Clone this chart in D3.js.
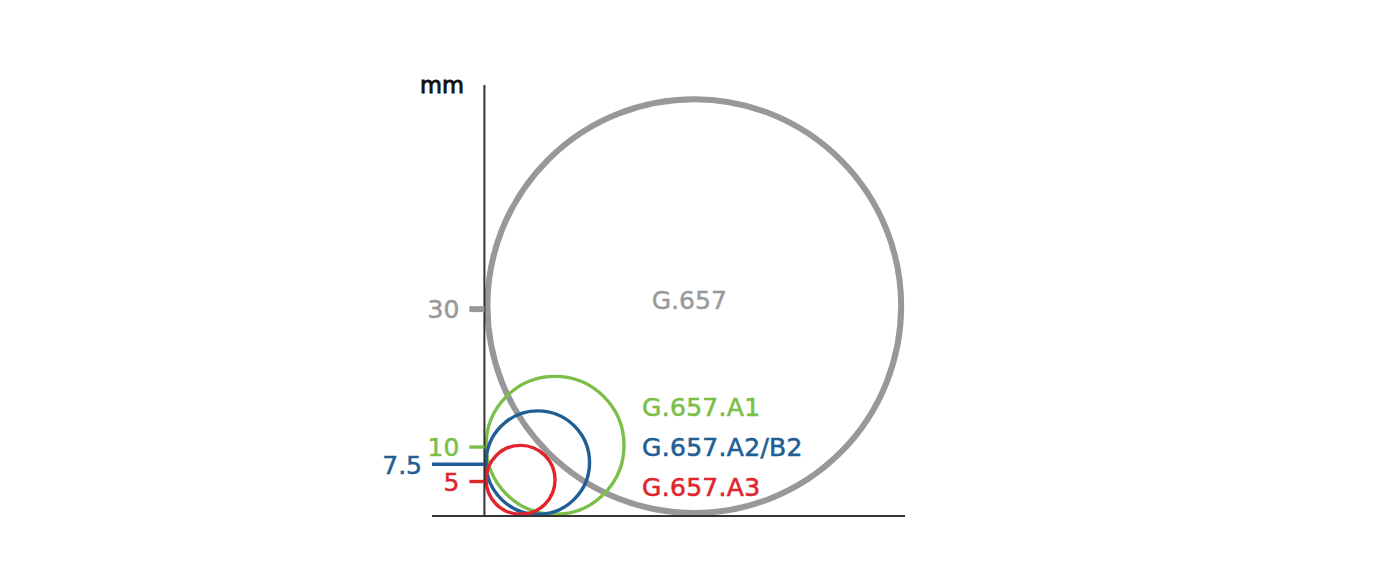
<!DOCTYPE html>
<html>
<head>
<meta charset="utf-8">
<script src="https://cdn.jsdelivr.net/npm/d3@7"></script>
<style>
  html, body { margin: 0; padding: 0; background: #fff; }
  svg { display: block; }
  text { font-family: "DejaVu Sans", sans-serif; paint-order: stroke; }
</style>
</head>
<body>
<svg id="chart" width="1379" height="579"></svg>
<script>
// ---- data ----
const categories = ["G.657", "G.657.A1", "G.657.A2/B2", "G.657.A3"];
const radii = [30, 10, 7.5, 5];          // minimum bend radius, mm
const tickLabels = ["30", "10", "7.5", "5"];
const legendLabels = ["G.657.A1", "G.657.A2/B2", "G.657.A3"];
const unitLabel = "mm";

// ---- styles ----
const colors = ["#98989b", "#7abf48", "#1f5f95", "#e0252e"];
const strokeW = [6, 3.4, 3.4, 3.4];

const svg = d3.select("#chart");

const x = d3.scaleLinear().domain([-7.6, 61]).range([432, 905]);
const y = d3.scaleLinear().domain([0, 62.5]).range([516, 85]);
const k = y(0) - y(1); // px per mm

const data = categories.map((c, i) => ({
  name: c, r: radii[i], color: colors[i], sw: strokeW[i], tick: tickLabels[i]
}));

// circles (tangent to both axes)
svg.append("g").selectAll("circle")
  .data(data)
  .join("circle")
  .attr("cx", d => x(0) + d.r * k + d.sw / 2)
  .attr("cy", d => y(0) - d.r * k - d.sw / 2)
  .attr("r", d => d.r * k)
  .attr("fill", "none")
  .attr("stroke", d => d.color)
  .attr("stroke-width", d => d.sw);

// axes
const axisColor = "#333";
svg.append("line")
  .attr("x1", x.range()[0]).attr("x2", x.range()[1])
  .attr("y1", y(0)).attr("y2", y(0))
  .attr("stroke", axisColor).attr("stroke-width", 2);
svg.append("line")
  .attr("x1", x(0)).attr("x2", x(0))
  .attr("y1", y.range()[1]).attr("y2", y(0))
  .attr("stroke", axisColor).attr("stroke-width", 2);

// ticks
const ticks = svg.append("g");
data.forEach((d, i) => {
  const long = d.name === "G.657.A2/B2";
  const x1 = long ? x.range()[0] : x(0) - 15;
  ticks.append("line")
    .attr("x1", x1).attr("x2", x(0))
    .attr("y1", y(d.r)).attr("y2", y(d.r))
    .attr("stroke", d.color)
    .attr("stroke-width", d.sw);
  ticks.append("text")
    .attr("x", x1 - 10)
    .attr("y", y(d.r))
    .attr("dy", "0.37em")
    .attr("text-anchor", "end")
    .attr("font-size", 25)
    .attr("fill", d.color)
    .attr("stroke", d.color)
    .attr("stroke-width", 0.5)
    .text(d.tick);
});

// unit label
svg.append("text")
  .attr("x", 442).attr("y", 93)
  .attr("text-anchor", "middle")
  .attr("font-size", 22.5)
  .attr("fill", "#111")
  .attr("stroke", "#111")
  .attr("stroke-width", 0.9)
  .text(unitLabel);

// big circle label
const g0 = data[0];
svg.append("text")
  .attr("x", x(0) + g0.r * k + g0.sw / 2 - 5)
  .attr("y", 309)
  .attr("text-anchor", "middle")
  .attr("font-size", 25)
  .attr("fill", g0.color)
  .attr("stroke", g0.color)
  .attr("stroke-width", 0.4)
  .text(g0.name);

// legend labels
svg.append("g").selectAll("text")
  .data(legendLabels)
  .join("text")
  .attr("x", 642)
  .attr("y", (d, i) => 416 + i * 40)
  .attr("font-size", 25)
  .attr("letter-spacing", 0.3)
  .attr("fill", (d, i) => colors[i + 1])
  .attr("stroke", (d, i) => colors[i + 1])
  .attr("stroke-width", 0.6)
  .text(d => d);
</script>
</body>
</html>
